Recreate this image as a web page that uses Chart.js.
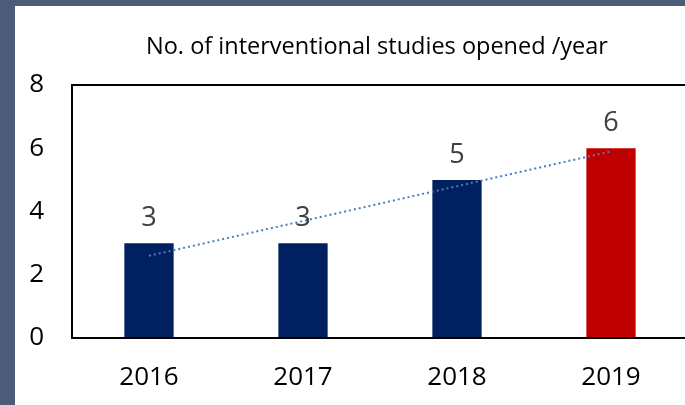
<!DOCTYPE html>
<html>
<head>
<meta charset="utf-8">
<script src="https://cdn.jsdelivr.net/npm/chart.js@4"></script>
<style>
  html,body{margin:0;padding:0;overflow:hidden;background:#4b5b78;width:685px;height:405px;}
  #wrap{position:absolute;left:15px;top:6px;width:680px;height:399px;background:#fff;}
  #wrap canvas{display:block;}
</style>
</head>
<body>
<div id="wrap"><canvas id="c" width="680" height="399"></canvas></div>
<script>
const categories = ['2016', '2017', '2018', '2019'];
const studiesOpened = [3, 3, 5, 6];
const trendValues = [2.6, 3.7, 4.8, 5.9];
const yTicks = [0, 2, 4, 6, 8];
const barColors = ['#002060', '#002060', '#002060', '#c00000'];
const titleText = 'No. of interventional studies opened /year';

const FONT = '"Open Sans", "Liberation Sans", sans-serif';

const valueLabels = {
  id: 'valueLabels',
  afterDatasetsDraw(chart) {
    const ctx = chart.ctx;
    const meta = chart.getDatasetMeta(0);
    ctx.save();
    ctx.font = '27px ' + FONT;
    ctx.fillStyle = '#404040';
    ctx.textAlign = 'center';
    ctx.textBaseline = 'middle';
    meta.data.forEach((bar, i) => {
      ctx.fillText(String(studiesOpened[i]), bar.x, bar.y - 25);
    });
    ctx.restore();
  }
};

const chartTitle = {
  id: 'chartTitle',
  afterDraw(chart) {
    const ctx = chart.ctx;
    ctx.save();
    ctx.font = '23.5px ' + FONT;
    ctx.fillStyle = '#000';
    ctx.textAlign = 'center';
    ctx.textBaseline = 'middle';
    ctx.fillText(titleText, 362, 41);
    ctx.restore();
  }
};

new Chart(document.getElementById('c'), {
  data: {
    labels: categories,
    datasets: [
      {
        type: 'bar',
        data: studiesOpened,
        backgroundColor: barColors,
        barPercentage: 0.32,
        categoryPercentage: 1,
        order: 2
      },
      {
        type: 'line',
        data: trendValues,
        borderColor: '#4a7ebb',
        borderWidth: 2,
        borderDash: [2, 3],
        pointRadius: 0,
        fill: false,
        tension: 0,
        order: 1
      }
    ]
  },
  options: {
    responsive: false,
    animation: false,
    layout: { padding: { left: 0, right: 7, top: 79, bottom: 0 } },
    plugins: {
      legend: { display: false },
      tooltip: { enabled: false },
      title: { display: false }
    },
    scales: {
      x: {
        grid: { display: false, drawTicks: false },
        border: { display: true, color: '#000', width: 2 },
        ticks: { color: '#000', font: { family: FONT, size: 26 }, padding: 24 },
        afterFit(axis) { axis.height = 67; }
      },
      y: {
        min: 0, max: 8,
        afterBuildTicks(axis) { axis.ticks = yTicks.map(v => ({ value: v })); },
        grid: {
          drawTicks: false,
          color: (c) => c.tick && c.tick.value === 8 ? '#000' : 'rgba(0,0,0,0)',
          lineWidth: 2
        },
        border: { display: true, color: '#000', width: 2 },
        ticks: { color: '#000', font: { family: FONT, size: 26 }, padding: 28 },
        afterFit(axis) { axis.width = 57; }
      }
    }
  },
  plugins: [valueLabels, chartTitle]
});
</script>
</body>
</html>
